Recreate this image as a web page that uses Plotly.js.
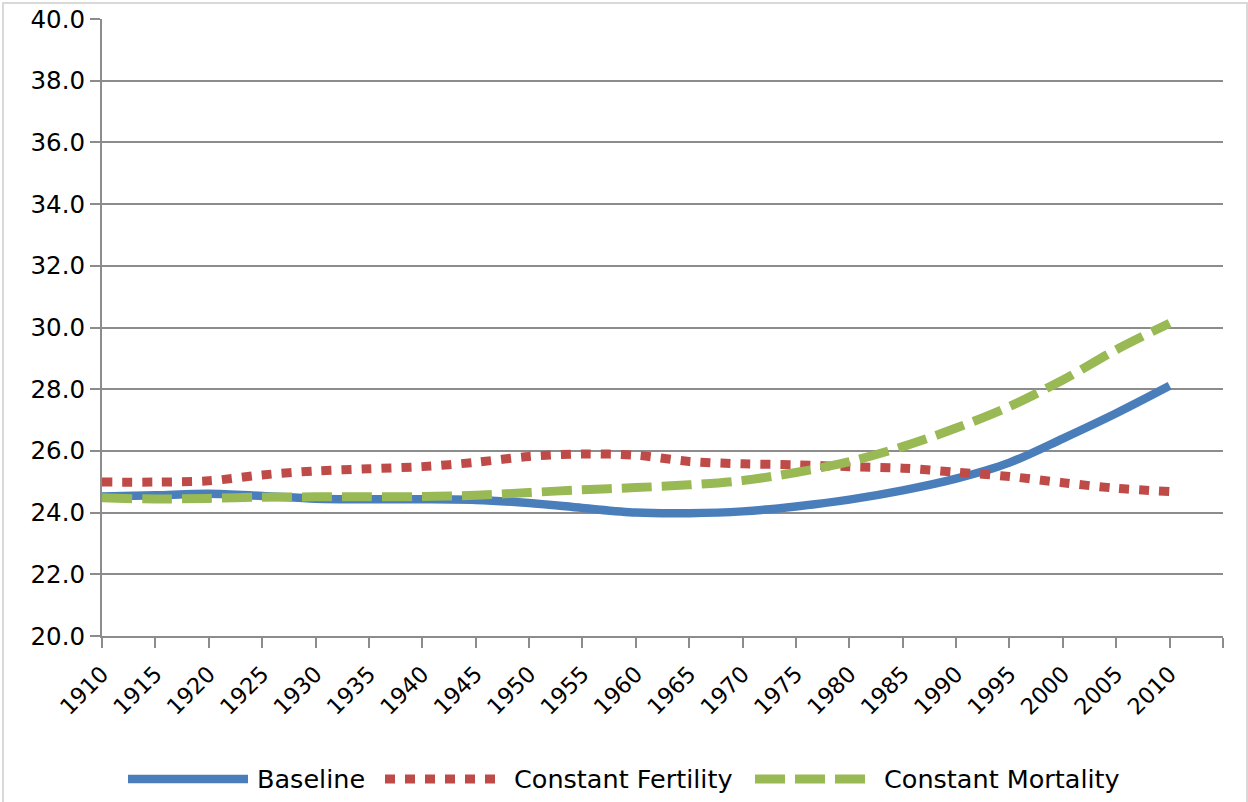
<!DOCTYPE html>
<html>
<head>
<meta charset="utf-8">
<script src="https://cdn.plot.ly/plotly-3.0.1.min.js"></script>
<style>
  html, body { margin: 0; padding: 0; background: #fff; }
  #chart { width: 1248px; height: 802px; }
</style>
</head>
<body>
<div id="chart"></div>
<script>
// Years on the category axis
const years = [1910, 1915, 1920, 1925, 1930, 1935, 1940, 1945, 1950, 1955, 1960,
               1965, 1970, 1975, 1980, 1985, 1990, 1995, 2000, 2005, 2010];

// Series values (one per year)
const baseline = [24.52, 24.56, 24.61, 24.54, 24.45, 24.43, 24.43, 24.41, 24.31, 24.15, 24.0,
                  23.98, 24.04, 24.2, 24.42, 24.72, 25.1, 25.62, 26.4, 27.22, 28.11];
const constantFertility = [24.99, 24.99, 25.03, 25.22, 25.35, 25.42, 25.49, 25.63, 25.82, 25.9, 25.86,
                           25.66, 25.58, 25.55, 25.49, 25.44, 25.31, 25.17, 24.97, 24.79, 24.68];
const constantMortality = [24.48, 24.44, 24.46, 24.5, 24.51, 24.51, 24.52, 24.56, 24.65, 24.74, 24.81,
                           24.9, 25.04, 25.3, 25.65, 26.14, 26.74, 27.44, 28.3, 29.28, 30.14];

// Axis ticks
const xTickVals = [1910, 1915, 1920, 1925, 1930, 1935, 1940, 1945, 1950, 1955, 1960,
                   1965, 1970, 1975, 1980, 1985, 1990, 1995, 2000, 2005, 2010, 2015];
const xTickText = ['1910', '1915', '1920', '1925', '1930', '1935', '1940', '1945', '1950', '1955', '1960',
                   '1965', '1970', '1975', '1980', '1985', '1990', '1995', '2000', '2005', '2010', ''];
const yTickVals = [20, 22, 24, 26, 28, 30, 32, 34, 36, 38, 40];

const seriesNames = ['Baseline', 'Constant Fertility', 'Constant Mortality'];
const seriesColors = ['#4a7ebb', '#be4b48', '#98b954'];
const seriesWidths = [8.5, 9, 9];
const seriesDashes = ['solid', '10px,10px', '30px,10px'];
const seriesValues = [baseline, constantFertility, constantMortality];

const FONT = 'DejaVu Sans, Verdana, sans-serif';

const traces = seriesValues.map((vals, i) => ({
  type: 'scatter',
  mode: 'lines',
  name: seriesNames[i],
  x: years,
  y: vals,
  line: { color: seriesColors[i], width: seriesWidths[i], dash: seriesDashes[i],
          shape: 'spline', smoothing: 0.9 },
  showlegend: false,
  hoverinfo: 'x+y+name'
}));

// Plot area geometry in pixels
const W = 1248, H = 802;
const M = { l: 102, r: 25, t: 19, b: 166 };
const plotW = W - M.l - M.r, plotH = H - M.t - M.b;
const px2x = p => (p - M.l) / plotW;
const py2y = p => (H - M.b - p) / plotH;

// Hand-built legend row beneath the axis labels
const legendY = 779;
const legendItems = [
  { x0: 128, x1: 248, tx: 255 },
  { x0: 385, x1: 505, tx: 512 },
  { x0: 755, x1: 875, tx: 882 }
];
const shapes = [
  // outer chart frame
  { type: 'rect', xref: 'paper', yref: 'paper',
    x0: px2x(3), x1: px2x(1247), y0: py2y(806), y1: py2y(3),
    line: { color: '#d9d9d9', width: 2 }, layer: 'below' }
];
const annotations = [];
legendItems.forEach((it, i) => {
  shapes.push({
    type: 'line', xref: 'paper', yref: 'paper',
    x0: px2x(it.x0), x1: px2x(it.x1), y0: py2y(legendY), y1: py2y(legendY),
    line: { color: seriesColors[i], width: seriesWidths[i], dash: seriesDashes[i] }
  });
  annotations.push({
    xref: 'paper', yref: 'paper', x: px2x(it.tx), y: py2y(legendY),
    xanchor: 'left', yanchor: 'middle', showarrow: false,
    text: seriesNames[i],
    font: { family: FONT, size: 25.5, color: '#000' }
  });
});

const layout = {
  width: W, height: H,
  margin: M,
  paper_bgcolor: '#ffffff',
  plot_bgcolor: '#ffffff',
  font: { family: FONT, size: 24.5, color: '#000' },
  xaxis: {
    range: [1910, 2015],
    tickmode: 'array', tickvals: xTickVals, ticktext: xTickText,
    tickangle: -45,
    ticks: 'outside', ticklen: 10, tickwidth: 2, tickcolor: '#8c8c8c',
    ticklabelstandoff: 4,
    showline: true, linecolor: '#8c8c8c', linewidth: 2,
    showgrid: false, zeroline: false,
    tickfont: { family: FONT, size: 22.5, color: '#000' }
  },
  yaxis: {
    range: [20, 40],
    tickmode: 'array', tickvals: yTickVals,
    tickformat: '.1f',
    ticks: 'outside', ticklen: 10, tickwidth: 2, tickcolor: '#8c8c8c',
    showline: true, linecolor: '#8c8c8c', linewidth: 2,
    showgrid: true, gridcolor: '#8c8c8c', gridwidth: 2,
    zeroline: false,
    tickfont: { family: FONT, size: 24.5, color: '#000' }
  },
  shapes: shapes,
  annotations: annotations,
  showlegend: false
};

Plotly.newPlot('chart', traces, layout, { displayModeBar: false, staticPlot: true });
</script>
</body>
</html>
